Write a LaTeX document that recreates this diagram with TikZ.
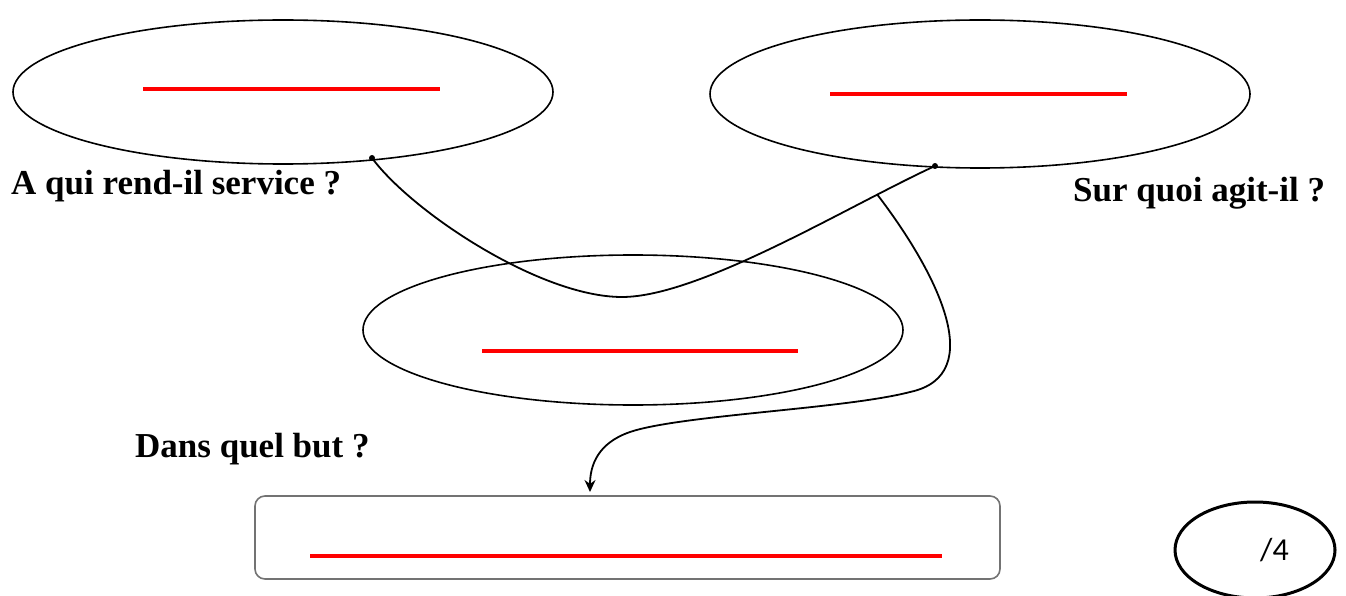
\documentclass[tikz,border=0pt]{standalone}
\usepackage{fontspec}
\setmainfont{Liberation Serif}
\newfontfamily\calib{Carlito}
\usetikzlibrary{shapes.geometric,arrows.meta}
\begin{document}
\begin{tikzpicture}[x=1pt,y=-1pt,
  oval/.style={draw=black,ellipse,line width=1.6pt,minimum width=540pt,minimum height=144pt,inner sep=0pt},
  blank/.style={draw=red,line width=4pt},
  question/.style={font=\fontsize{35}{40}\selectfont\bfseries,anchor=base west,inner sep=0pt},
  link/.style={draw=black,line width=1.8pt},
  dotend/.style={circle,fill=black,inner sep=0pt,minimum size=6pt}]
\useasboundingbox (0,0) rectangle (1346,596);
% ellipses
\node[oval] (e1) at (283,92) {};
\node[oval,minimum height=148pt] (e2) at (980,94) {};
\node[oval,minimum height=150pt] (e3) at (633,330) {};
% answer box
\node[draw=black!55,line width=1.6pt,rounded corners=10pt,minimum width=745pt,minimum height=83pt,inner sep=0pt] (box) at (627.5,537.5) {};
% score oval
\node[draw=black,ellipse,line width=3pt,minimum width=160pt,minimum height=96pt,inner sep=0pt] (score) at (1255,550) {};
\node[font=\calib\fontsize{32}{36}\selectfont,anchor=base west,inner sep=0pt] (mark) at (1260,560) {/4};
% red blanks
\draw[blank] (143,89) -- (440,89);
\draw[blank] (830,94) -- (1127,94);
\draw[blank] (482,351) -- (798,351);
\draw[blank] (310,556) -- (942,556);
% questions
\node[question] (q1) at (11,195) {A qui rend-il service ?};
\node[question] (q2) at (1073,202) {Sur quoi agit-il ?};
\node[question] (q3) at (135,457) {Dans quel but ?};
% connectors
\coordinate (a1) at (372,158);
\coordinate (a2) at (935,166);
\coordinate (m) at (622,297);
\coordinate (tip) at (590,492);
\draw[link] (a1) .. controls (412,212) and (540,297) .. (m) .. controls (700,297) and (850,205) .. (a2) coordinate[pos=0.8] (br);
\node[dotend] (d1) at (a1) {};
\node[dotend] (d2) at (a2) {};
\draw[link,-{Stealth[length=12pt,width=11pt]}] (br) .. controls (935,270) and (990,375) .. (910,392) .. controls (845,409) and (680,415) .. (630,432) .. controls (598,443) and (590,465) .. (tip);
\end{tikzpicture}
\end{document}
